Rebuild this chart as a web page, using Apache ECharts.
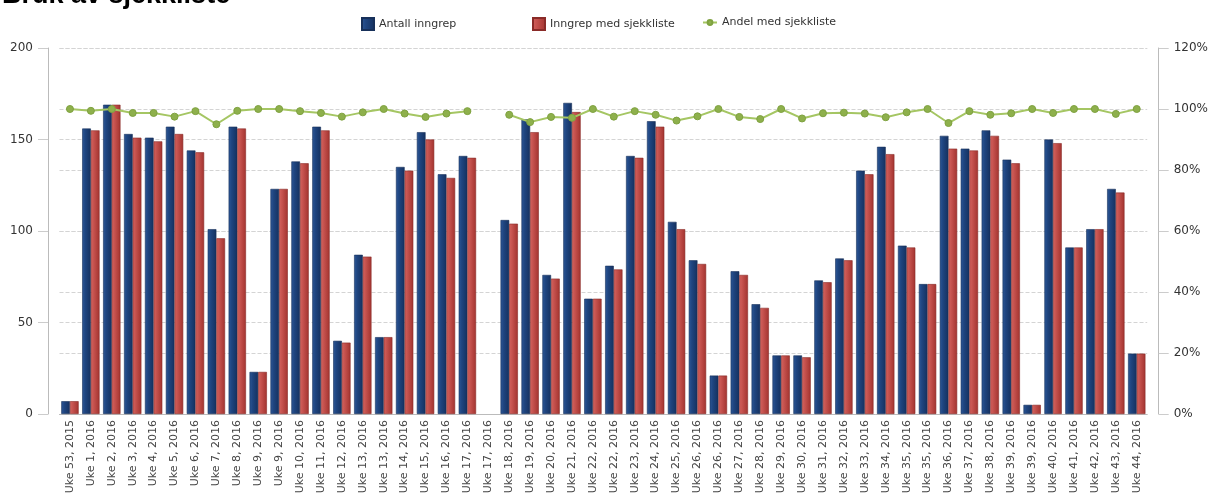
<!DOCTYPE html>
<html>
<head>
<meta charset="utf-8">
<script src="https://cdn.jsdelivr.net/npm/echarts@6/dist/echarts.min.js"></script>
<style>
html,body{margin:0;padding:0;background:#fff;}
#c{width:1211px;height:503px;}
</style>
</head>
<body>
<div id="c"></div>
<script>
const categories = [
 "Uke 53, 2015","Uke 1, 2016","Uke 2, 2016","Uke 3, 2016","Uke 4, 2016","Uke 5, 2016","Uke 6, 2016","Uke 7, 2016","Uke 8, 2016","Uke 9, 2016",
 "Uke 9, 2016","Uke 10, 2016","Uke 11, 2016","Uke 12, 2016","Uke 13, 2016","Uke 13, 2016","Uke 14, 2016","Uke 15, 2016","Uke 16, 2016","Uke 17, 2016",
 "Uke 17, 2016","Uke 18, 2016","Uke 19, 2016","Uke 20, 2016","Uke 21, 2016","Uke 22, 2016","Uke 22, 2016","Uke 23, 2016","Uke 24, 2016","Uke 25, 2016",
 "Uke 26, 2016","Uke 26, 2016","Uke 27, 2016","Uke 28, 2016","Uke 29, 2016","Uke 30, 2016","Uke 31, 2016","Uke 32, 2016","Uke 33, 2016","Uke 34, 2016",
 "Uke 35, 2016","Uke 35, 2016","Uke 36, 2016","Uke 37, 2016","Uke 38, 2016","Uke 39, 2016","Uke 39, 2016","Uke 40, 2016","Uke 41, 2016","Uke 42, 2016",
 "Uke 43, 2016","Uke 44, 2016"
];
const antallInngrep = [7,156,169,153,151,157,144,101,157,23, 123,138,157,40,87,42,135,154,131,141, null,106,161,76,170,63,81,141,160,105, 84,21,78,60,32,32,73,85,133,146, 92,71,152,145,155,139,5,150,91,101, 123,33];
const inngrepMedSjekkliste = [7,155,169,151,149,153,143,96,156,23, 123,137,155,39,86,42,133,150,129,140, null,104,154,74,165,63,79,140,157,101, 82,21,76,58,32,31,72,84,131,142, 91,71,145,144,152,137,5,148,91,101, 121,33];
const andelMedSjekkliste = [100,99.4,100,98.7,98.7,97.5,99.3,95.0,99.4,100, 100,99.3,98.7,97.5,98.9,100,98.5,97.4,98.5,99.3, null,98.1,95.7,97.4,97.1,100,97.5,99.3,98.1,96.2, 97.6,100,97.4,96.7,100,96.9,98.6,98.8,98.5,97.3, 98.9,100,95.4,99.3,98.1,98.6,100,98.7,100,100, 98.4,100];
const leftTicks = {min:0, max:200, interval:50};
const rightTicks = {min:0, max:120, interval:20};

const FONT = 'DejaVu Sans';
const chart = echarts.init(document.getElementById('c'), null, {renderer:'canvas'});
const blueGrad = new echarts.graphic.LinearGradient(0,0,1,0,[
  {offset:0,color:'#2d5898'},{offset:0.35,color:'#1f4580'},{offset:1,color:'#15315f'}]);
const redGrad = new echarts.graphic.LinearGradient(0,0,1,0,[
  {offset:0,color:'#d4625e'},{offset:0.4,color:'#c24f4b'},{offset:1,color:'#a2332f'}]);
const legendText = {fontFamily:FONT, fontSize:11, color:'#333'};
chart.setOption({
  animation:false,
  backgroundColor:'#fff',
  title:{text:'Bruk av sjekkliste', left:-3, top:-23,
    textStyle:{fontFamily:'Liberation Sans', fontWeight:'bold', fontSize:27, color:'#000'}},
  legend:[
    {left:356, top:12, itemWidth:12, itemHeight:12, textStyle:legendText, data:[{name:'Antall inngrep', icon:'rect'}]},
    {left:527, top:12, itemWidth:12, itemHeight:12, textStyle:legendText, data:[{name:'Inngrep med sjekkliste', icon:'rect'}]},
    {left:697, top:12, itemWidth:14, itemHeight:6, textStyle:legendText, data:[{name:'Andel med sjekkliste'}]}
  ],
  grid:{left:59.5, right:62.5, top:48, bottom:89, containLabel:false},
  xAxis:{
    type:'category', data:categories, boundaryGap:true,
    axisLine:{lineStyle:{color:'#bbb'}},
    axisTick:{alignWithLabel:true, length:5, lineStyle:{color:'#bbb'}},
    axisLabel:{rotate:90, interval:0, fontFamily:FONT, fontSize:11, color:'#444', margin:6}
  },
  yAxis:[
    {type:'value', min:leftTicks.min, max:leftTicks.max, interval:leftTicks.interval, offset:11.5,
     axisLine:{show:true, lineStyle:{color:'#bbb'}},
     axisTick:{show:true, length:10, lineStyle:{color:'#ccc'}},
     axisLabel:{fontFamily:FONT, fontSize:12, color:'#333', margin:15},
     splitLine:{show:true, lineStyle:{color:'#d4d4d4', type:'dashed'}}},
    {type:'value', min:rightTicks.min, max:rightTicks.max, interval:rightTicks.interval, offset:11.5, position:'right',
     axisLine:{show:true, lineStyle:{color:'#bbb'}},
     axisTick:{show:true, length:10, lineStyle:{color:'#ccc'}},
     axisLabel:{fontFamily:FONT, fontSize:12, color:'#333', margin:15, formatter:'{value}%'},
     splitLine:{show:true, lineStyle:{color:'#d4d4d4', type:'dashed'}}}
  ],
  series:[
    {name:'Antall inngrep', type:'bar', data:antallInngrep, barGap:'0%', barCategoryGap:'17%',
     itemStyle:{color:blueGrad, borderColor:'#17305a', borderWidth:0.6}},
    {name:'Inngrep med sjekkliste', type:'bar', data:inngrepMedSjekkliste,
     itemStyle:{color:redGrad, borderColor:'#8a2b28', borderWidth:0.6}},
    {name:'Andel med sjekkliste', type:'line', yAxisIndex:1, data:andelMedSjekkliste,
     symbol:'circle', symbolSize:7, connectNulls:false,
     lineStyle:{color:'#a5c663', width:2},
     itemStyle:{color:'#8eb04c', borderColor:'#7fa240', borderWidth:1}}
  ]
});
</script>
</body>
</html>
